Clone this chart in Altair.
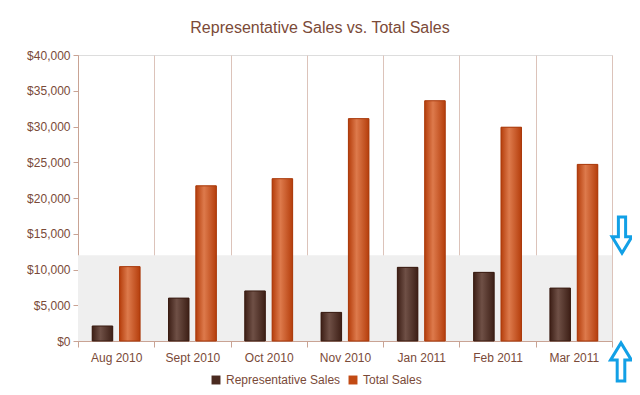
import altair as alt
import pandas as pd

months = ["Aug 2010", "Sept 2010", "Oct 2010", "Nov 2010", "Jan 2011", "Feb 2011", "Mar 2011"]
rep_sales = [2100, 6000, 7000, 4000, 10300, 9600, 7400]
total_sales = [10400, 21700, 22700, 31100, 33600, 29900, 24700]
series = ["Representative Sales", "Total Sales"]
series_colors = ["#4a2a20", "#c24a14"]
y_ticks = [0, 5000, 10000, 15000, 20000, 25000, 30000, 35000, 40000]
band_low, band_high = 0, 12000

rows = []
for m, r, t in zip(months, rep_sales, total_sales):
    rows.append({"month": m, "series": series[0], "value": r})
    rows.append({"month": m, "series": series[1], "value": t})
df = pd.DataFrame(rows)

W, H = 534, 286
text_color = "#7a4a38"
line_color = "#c9a394"

y_axis = alt.Axis(values=y_ticks, format="$,d", labelOverlap=False, tickCount=9,
                  grid=False, domainColor=line_color, tickColor=line_color,
                  labelColor=text_color, labelFontSize=12,
                  labelFont="Liberation Sans", tickSize=5, labelPadding=3)
y_scale = alt.Scale(domain=[0, 40000], nice=False)

x_enc = alt.X("month:N", sort=months, title=None,
              scale=alt.Scale(paddingInner=0, paddingOuter=0),
              axis=alt.Axis(labelAngle=0, grid=True, tickBand="extent",
                            gridColor="#dcc3ba", domainColor=line_color,
                            tickColor=line_color, labelColor=text_color,
                            labelFontSize=12, labelFont="Liberation Sans",
                            labelPadding=5, tickSize=6))
y_enc = alt.Y("value:Q", title=None, scale=y_scale, axis=y_axis)
xo = alt.XOffset("series:N", sort=series,
                 scale=alt.Scale(paddingInner=0.25, paddingOuter=0.52))

band = alt.Chart(pd.DataFrame({"lo": [band_low], "hi": [band_high]})).mark_rect(
    color="#efefef").encode(
    x=alt.value(0), x2=alt.value(W),
    y=alt.Y("lo:Q", title=None, scale=y_scale, axis=y_axis), y2="hi:Q")

def grad(dark, light):
    return alt.LinearGradient(gradient="linear", x1=0, x2=1, y1=0, y2=0, stops=[
        alt.GradientStop(offset=0, color=dark),
        alt.GradientStop(offset=0.4, color=light),
        alt.GradientStop(offset=1, color=dark)])

legend_layer = alt.Chart(df).mark_bar(opacity=1).encode(
    x=x_enc, xOffset=xo, y=y_enc,
    color=alt.Color("series:N", sort=series,
                    scale=alt.Scale(domain=series, range=series_colors),
                    legend=alt.Legend(title=None, orient="none", direction="horizontal",
                                      legendX=132, legendY=319, symbolType="square",
                                      symbolSize=80, labelColor=text_color,
                                      labelFontSize=12, labelFont="Liberation Sans",
                                      columnPadding=6, symbolStrokeWidth=0)))

rep_layer = alt.Chart(df).transform_filter(alt.datum.series == series[0]).mark_bar(
    color=grad("#3d1f16", "#6f5046"), stroke="#3a1c12", strokeWidth=1).encode(
    x=x_enc, xOffset=xo, y=y_enc)
tot_layer = alt.Chart(df).transform_filter(alt.datum.series == series[1]).mark_bar(
    color=grad("#b53e0c", "#dd7a4c"), stroke="#a93a0c", strokeWidth=1).encode(
    x=x_enc, xOffset=xo, y=y_enc)

down_path = "M-0.2,-1 L0.2,-1 L0.2,0.1 L0.55,0.1 L0,1 L-0.55,0.1 L-0.2,0.1 Z"
up_path = "M-0.2,1 L0.2,1 L0.2,-0.1 L0.55,-0.1 L0,-1 L-0.55,-0.1 L-0.2,-0.1 Z"
arrow_df = pd.DataFrame({"k": [0]})
down_arrow = alt.Chart(arrow_df).mark_point(
    shape=down_path, size=1300, filled=True, fill="white", stroke="#12a0e6",
    strokeWidth=3, opacity=1).encode(x=alt.value(W + 10), y=alt.value(180))
up_arrow = alt.Chart(arrow_df).mark_point(
    shape=up_path, size=1450, filled=True, fill="white", stroke="#12a0e6",
    strokeWidth=3, opacity=1).encode(x=alt.value(W + 9), y=alt.value(307))

chart = alt.layer(band, legend_layer, rep_layer, tot_layer, down_arrow, up_arrow).properties(
    width=W, height=H,
    title=alt.TitleParams("Representative Sales vs. Total Sales", fontSize=16,
                          font="Liberation Sans", fontWeight="normal",
                          color="#7b4a38", anchor="middle", dx=-25, offset=13),
    autosize=alt.AutoSizeParams(type="none"),
    padding={"left": 70, "top": 47, "right": 20, "bottom": 50},
).configure_view(stroke=None).configure(background="white")

chart.save("out.html", embed_options={"renderer": "svg", "actions": False})
